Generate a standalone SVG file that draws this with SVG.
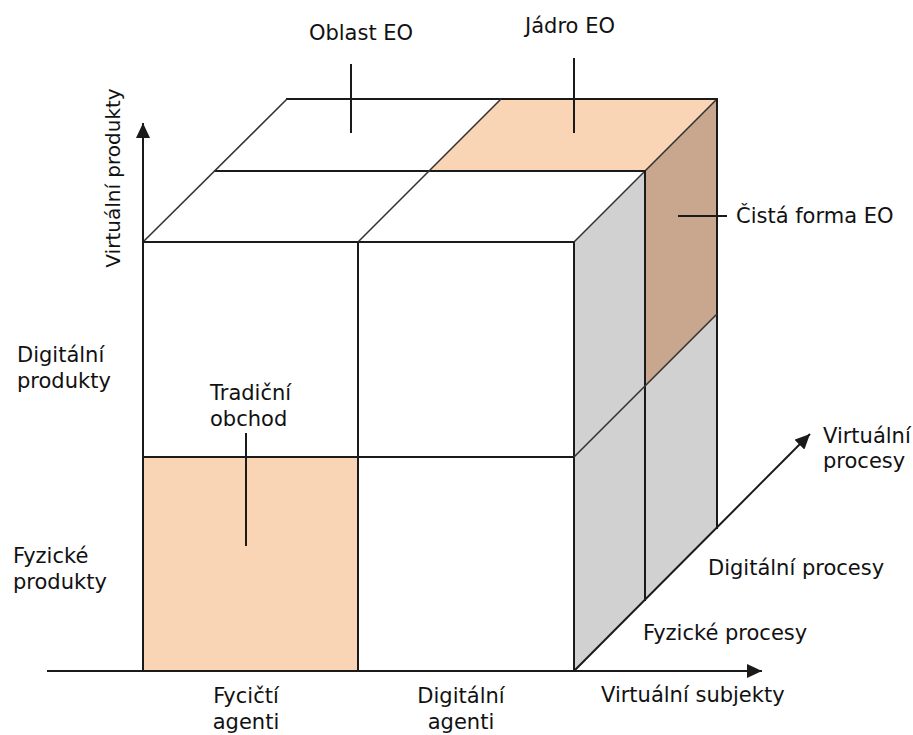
<svg xmlns="http://www.w3.org/2000/svg" width="913" height="735" viewBox="0 0 913 735">
<style>
.edge{stroke:#1a1a1a;stroke-width:2;fill:none;stroke-linecap:square}
.thin{stroke:#333;stroke-width:1.6;fill:none}
.axis{stroke:#1a1a1a;stroke-width:2;fill:none}
.lead{stroke:#1a1a1a;stroke-width:2;fill:none}
.orange{fill:#f9d5b6}
.brown{fill:#c9a78e}
.grey{fill:#d1d1d1}
.white{fill:#ffffff}
text{font-family:"DejaVu Sans","Liberation Sans",sans-serif;font-size:21px;fill:#111}
</style>
<defs>
<marker id="arr" markerUnits="userSpaceOnUse" markerWidth="16" markerHeight="14" refX="15" refY="7" orient="auto">
<path d="M0,0 L15,7 L0,14 z" fill="#1a1a1a"/>
</marker>
</defs>
<rect width="913" height="735" fill="#ffffff"/>

<g id="cube">
<g id="top-face">
<polygon class="white" points="143,242 287,99 717,99 574,242"/>
<polygon class="orange" points="501,99 717,99 645,171 429,171"/>
</g>
<g id="right-face">
<polygon class="grey" points="574,242 717,99 717,528 574,671"/>
<polygon class="brown" points="645,171 717,99 717,314 645,386"/>
</g>
<g id="front-face">
<rect class="white" x="143" y="242" width="431" height="429"/>
<rect class="orange" x="143" y="457" width="215" height="214"/>
</g>
<g id="cube-lines">
<line class="edge" x1="143" y1="242" x2="574" y2="242"/>
<line class="edge" x1="143" y1="457" x2="574" y2="457"/>
<line class="edge" x1="358" y1="242" x2="358" y2="671"/>
<line class="edge" x1="574" y1="242" x2="574" y2="671"/>
<line class="edge" x1="287" y1="99" x2="717" y2="99"/>
<line class="edge" x1="215" y1="171" x2="645" y2="171"/>
<line class="thin" x1="143" y1="242" x2="287" y2="99"/>
<line class="thin" x1="358" y1="242" x2="501" y2="99"/>
<line class="thin" x1="574" y1="242" x2="717" y2="99"/>
<line class="edge" x1="645" y1="171" x2="645" y2="600"/>
<line class="edge" x1="717" y1="99" x2="717" y2="528"/>
<line class="thin" x1="574" y1="457" x2="717" y2="314"/>
</g>
</g>

<g id="connectors">
<line class="axis" x1="47" y1="671" x2="762" y2="671" marker-end="url(#arr)"/>
<line class="axis" x1="143" y1="671" x2="143" y2="123" marker-end="url(#arr)"/>
<line class="axis" x1="574" y1="671" x2="810" y2="434" marker-end="url(#arr)"/>
<line class="lead" x1="351" y1="64" x2="351" y2="133"/>
<line class="lead" x1="574" y1="58" x2="574" y2="133"/>
<line class="lead" x1="678" y1="216" x2="727" y2="216"/>
<line class="lead" x1="246" y1="433" x2="246" y2="546"/>
</g>

<g id="label-oblast"><text x="361" y="40" text-anchor="middle">Oblast EO</text></g>
<g id="label-jadro"><text x="570" y="33" text-anchor="middle">Jádro EO</text></g>
<g id="label-cista"><text x="736" y="223">Čistá forma EO</text></g>
<g id="label-virt-produkty"><text transform="translate(120,178) rotate(-90)" text-anchor="middle" style="font-size:20px">Virtuální produkty</text></g>
<g id="label-dig-produkty"><text x="17" y="362">Digitální</text><text x="17" y="388">produkty</text></g>
<g id="label-fyz-produkty"><text x="13" y="563">Fyzické</text><text x="13" y="589">produkty</text></g>
<g id="label-tradicni"><text x="210" y="400">Tradiční</text><text x="210" y="426">obchod</text></g>
<g id="label-fyc-agenti"><text x="246" y="703" text-anchor="middle">Fycičtí</text><text x="246" y="729" text-anchor="middle">agenti</text></g>
<g id="label-dig-agenti"><text x="461" y="703" text-anchor="middle">Digitální</text><text x="461" y="729" text-anchor="middle">agenti</text></g>
<g id="label-virt-subjekty"><text x="601" y="702">Virtuální subjekty</text></g>
<g id="label-fyz-procesy"><text x="643" y="640">Fyzické procesy</text></g>
<g id="label-dig-procesy"><text x="708" y="575">Digitální procesy</text></g>
<g id="label-virt-procesy"><text x="823" y="443">Virtuální</text><text x="823" y="468">procesy</text></g>
</svg>
